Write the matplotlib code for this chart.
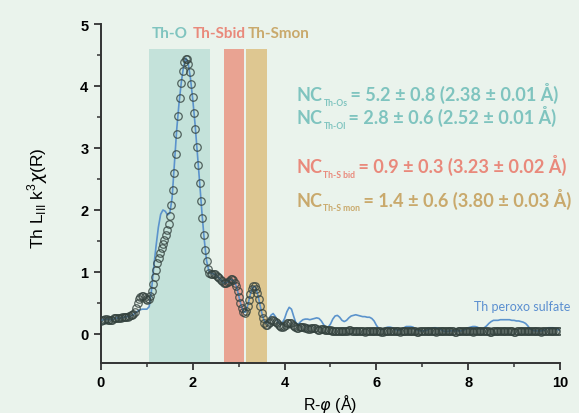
import numpy as np
import matplotlib
matplotlib.use("Agg")
import matplotlib.pyplot as plt
from matplotlib.ticker import MultipleLocator

# ---------------- data ----------------
# fit (circles) sampled on the FT grid, step ~0.0307 A
fit_step = 0.0307
fit_y = [
    0.21, 0.22, 0.23, 0.24, 0.24, 0.23, 0.22, 0.22, 0.23, 0.25,
    0.26, 0.26, 0.25, 0.25, 0.26, 0.27, 0.28, 0.28, 0.28, 0.28,
    0.29, 0.30, 0.31, 0.32, 0.36, 0.42, 0.50, 0.56, 0.60, 0.62,
    0.62, 0.60, 0.57, 0.55, 0.56, 0.62, 0.70, 0.80, 0.92, 1.04,
    1.14, 1.23, 1.31, 1.38, 1.45, 1.52, 1.59, 1.67, 1.77, 1.90,
    2.08, 2.32, 2.60, 2.90, 3.22, 3.52, 3.80, 4.05, 4.25, 4.38,
    4.44, 4.43, 4.35, 4.22, 4.04, 3.82, 3.57, 3.30, 3.02, 2.73,
    2.44, 2.15, 1.87, 1.60, 1.36, 1.17, 1.05, 0.99, 0.97, 0.97,
    0.97, 0.96, 0.94, 0.92, 0.90, 0.87, 0.85, 0.83, 0.82, 0.82,
    0.84, 0.86, 0.88, 0.88, 0.87, 0.83, 0.77, 0.69, 0.60, 0.50,
    0.42, 0.36, 0.34, 0.37, 0.45, 0.55, 0.65, 0.73, 0.77, 0.77,
    0.73, 0.66, 0.56, 0.45, 0.34, 0.25, 0.18, 0.15, 0.15, 0.17,
    0.20, 0.22, 0.22, 0.21, 0.19, 0.17, 0.15, 0.13, 0.12, 0.12,
    0.13, 0.15, 0.17, 0.18, 0.18, 0.17, 0.15, 0.13, 0.11, 0.10,
    0.10, 0.11, 0.12, 0.12, 0.11, 0.10, 0.09, 0.08, 0.08, 0.09,
    0.10, 0.10, 0.09, 0.08, 0.07, 0.07, 0.08, 0.08, 0.08, 0.07,
    0.06, 0.06, 0.06, 0.06, 0.05, 0.05, 0.04, 0.04, 0.04, 0.05,
    0.05, 0.05, 0.04, 0.04, 0.04, 0.05, 0.06, 0.06, 0.05, 0.04,
    0.04, 0.04, 0.05, 0.05, 0.05, 0.04, 0.04, 0.03, 0.04, 0.05,
    0.05, 0.05, 0.04, 0.04, 0.04, 0.05, 0.05, 0.04, 0.04, 0.03,
    0.03, 0.04, 0.05, 0.05, 0.05, 0.04, 0.04, 0.04, 0.05, 0.05,
    0.04, 0.04, 0.03, 0.04, 0.04, 0.05, 0.05, 0.04, 0.04, 0.04,
    0.05, 0.05, 0.05, 0.04, 0.03, 0.03, 0.04, 0.04, 0.05, 0.05,
    0.04, 0.04, 0.04, 0.04, 0.05, 0.05, 0.04, 0.04, 0.03, 0.04,
    0.05, 0.05, 0.05, 0.04, 0.04, 0.04, 0.04, 0.05, 0.05, 0.04,
    0.04, 0.03, 0.03, 0.04, 0.05, 0.05, 0.04, 0.04, 0.04, 0.05,
    0.05, 0.05, 0.04, 0.04, 0.03, 0.04, 0.04, 0.05, 0.05, 0.04,
    0.04, 0.04, 0.05, 0.05, 0.04, 0.04, 0.03, 0.03, 0.04, 0.05,
    0.05, 0.05, 0.04, 0.04, 0.04, 0.05, 0.05, 0.04, 0.04, 0.04,
    0.05, 0.05, 0.04, 0.03, 0.03, 0.04, 0.05, 0.05, 0.05, 0.04,
    0.04, 0.04, 0.05, 0.05, 0.04, 0.04, 0.04, 0.05, 0.05, 0.05,
    0.04, 0.04, 0.03, 0.04, 0.05, 0.05, 0.04, 0.04, 0.04, 0.05,
    0.05, 0.04, 0.04, 0.04, 0.05, 0.05,
]
fit_r = np.arange(len(fit_y)) * fit_step

# experimental data (blue line), step 0.05 A
data_step = 0.05
data_y = [
    0.22, 0.23, 0.24, 0.24, 0.23, 0.23, 0.25, 0.26, 0.25, 0.26,
    0.27, 0.28, 0.28, 0.29, 0.31, 0.34, 0.37, 0.39, 0.40, 0.40,
    0.40, 0.44, 0.70, 1.08, 1.42, 1.72, 1.93, 2.00, 1.98, 1.92,
    1.95, 2.20, 2.75, 3.30, 3.72, 4.06, 4.32, 4.45, 4.37, 4.12,
    3.78, 3.38, 2.92, 2.44, 1.95, 1.52, 1.18, 1.02, 0.98, 0.97,
    0.95, 0.92, 0.88, 0.84, 0.82, 0.83, 0.87, 0.88, 0.85, 0.77,
    0.62, 0.47, 0.36, 0.35, 0.47, 0.63, 0.75, 0.77, 0.68, 0.52,
    0.35, 0.22, 0.17, 0.22, 0.30, 0.33, 0.28, 0.20, 0.16, 0.18,
    0.25, 0.36, 0.43, 0.40, 0.28, 0.17, 0.16, 0.20, 0.23, 0.24,
    0.24, 0.23, 0.24, 0.25, 0.26, 0.25, 0.21, 0.15, 0.11, 0.11,
    0.16, 0.24, 0.29, 0.30, 0.27, 0.22, 0.20, 0.22, 0.26, 0.29,
    0.30, 0.31, 0.30, 0.29, 0.28, 0.28, 0.27, 0.27, 0.25, 0.21,
    0.14, 0.09, 0.07, 0.08, 0.10, 0.11, 0.11, 0.10, 0.08, 0.06,
    0.06, 0.08, 0.10, 0.12, 0.12, 0.12, 0.11, 0.08, 0.06, 0.05,
    0.05, 0.05, 0.06, 0.08, 0.09, 0.10, 0.10, 0.09, 0.07, 0.05,
    0.04, 0.04, 0.05, 0.05, 0.05, 0.05, 0.05, 0.05, 0.06, 0.08,
    0.10, 0.11, 0.12, 0.12, 0.11, 0.09, 0.08, 0.10, 0.13, 0.17,
    0.20, 0.22, 0.22, 0.22, 0.23, 0.23, 0.23, 0.23, 0.23, 0.22,
    0.22, 0.21, 0.21, 0.20, 0.19, 0.17, 0.13, 0.08, 0.06, 0.05,
    0.05, 0.05, 0.05, 0.06, 0.08, 0.10, 0.10, 0.10, 0.09, 0.07,
    0.06,
]
data_r = np.arange(len(data_y)) * data_step

# shell bands
band_names = ["Th-O", "Th-Sbid", "Th-Smon"]
band_lo = [1.05, 2.67, 3.17]
band_hi = [2.37, 3.12, 3.61]
band_top = 4.6

nc_lines = [
    ("NC", "Th-Os", " = 5.2 \u00b1 0.8 (2.38 \u00b1 0.01 \u00c5)"),
    ("NC", "Th-Ol", " = 2.8 \u00b1 0.6 (2.52 \u00b1 0.01 \u00c5)"),
    ("NC", "Th-S bid", " = 0.9 \u00b1 0.3 (3.23 \u00b1 0.02 \u00c5)"),
    ("NC", "Th-S mon", " = 1.4 \u00b1 0.6 (3.80 \u00b1 0.03 \u00c5)"),
]

# ---------------- style ----------------
BG = "#eaf3ec"
band_fill = ["#c4e2da", "#e9a392", "#dec791"]
band_text = ["#7fc4bf", "#e9897b", "#c9a96c"]
nc_colors = ["#7fc4bf", "#7fc4bf", "#e9897b", "#c9a96c"]
nc_baselines = [3.77, 3.40, 2.61, 2.07]
ANN_FONT = "Lato"

fig = plt.figure(figsize=(5.79, 4.14), dpi=100, facecolor=BG)
ax = fig.add_axes([0.1744, 0.1208, 0.7928, 0.8188])
ax.set_facecolor(BG)
ylo = -0.468
ax.set_xlim(0, 10)
ax.set_ylim(ylo, 5.0)

for lo, hi, c in zip(band_lo, band_hi, band_fill):
    ax.fill_between([lo, hi], [ylo, ylo], [band_top, band_top], color=c, lw=0, zorder=1)

ax.plot(data_r, data_y, color="#5b93cc", lw=1.2, zorder=3)
ax.plot(fit_r, fit_y, ls="none", marker="o", ms=5.4, mfc="none",
        mec="#34423e", mew=0.9, alpha=0.8, zorder=4)

# top band labels
label_x = [1.10, 2.00, 3.20]
for name, x, c in zip(band_names, label_x, band_text):
    ax.text(x, 4.79, name, color=c, fontsize=11, fontweight="bold",
            family=ANN_FONT, va="baseline", ha="left")

# NC annotations
for (big, sub, rest), yb, c in zip(nc_lines, nc_baselines, nc_colors):
    t1 = ax.text(4.27, yb, big, color=c, fontsize=13, fontweight="bold",
                 family=ANN_FONT, va="baseline", ha="left")
    t2 = ax.annotate(sub, xy=(1, 0), xycoords=t1, xytext=(0.3, -2.5),
                     textcoords="offset points", color=c, fontsize=6.2,
                     fontweight="bold", family=ANN_FONT, va="bottom", ha="left")
    ax.annotate(rest, xy=(1, 0), xycoords=(t2, t1), xytext=(-1, 0),
                textcoords="offset points", color=c, fontsize=13.1,
                fontweight="bold", family=ANN_FONT, va="bottom", ha="left")

ax.text(8.12, 0.38, "Th peroxo sulfate", color="#5b8fd0", fontsize=9,
        family=ANN_FONT, va="baseline", ha="left")

# axes styling
for s in ["top", "right"]:
    ax.spines[s].set_visible(False)
for s in ["left", "bottom"]:
    ax.spines[s].set_color("#333333")
    ax.spines[s].set_linewidth(1.4)
ax.xaxis.set_major_locator(MultipleLocator(2))
ax.xaxis.set_minor_locator(MultipleLocator(1))
ax.yaxis.set_major_locator(MultipleLocator(1))
ax.yaxis.set_minor_locator(MultipleLocator(0.5))
ax.tick_params(which="major", direction="out", length=5, width=1.3,
               color="#333333", labelsize=10.5, pad=4)
ax.tick_params(which="minor", direction="out", length=3, width=1.1, color="#333333")
for lab in ax.get_xticklabels() + ax.get_yticklabels():
    lab.set_fontweight("bold")
    lab.set_family("Liberation Sans")

ax.set_ylabel(r"Th L$_{\mathregular{III}}$ k$^{\mathregular{3}}$$\chi$(R)",
              fontsize=12.5, family="Liberation Sans")
ax.yaxis.set_label_coords(-0.11, 0.49)
ax.set_xlabel(r"R-$\varphi$ (Å)", fontsize=11.5, family="Liberation Sans")
ax.xaxis.set_label_coords(0.5, -0.085)

fig.savefig("out.png", dpi=100, facecolor=BG)
